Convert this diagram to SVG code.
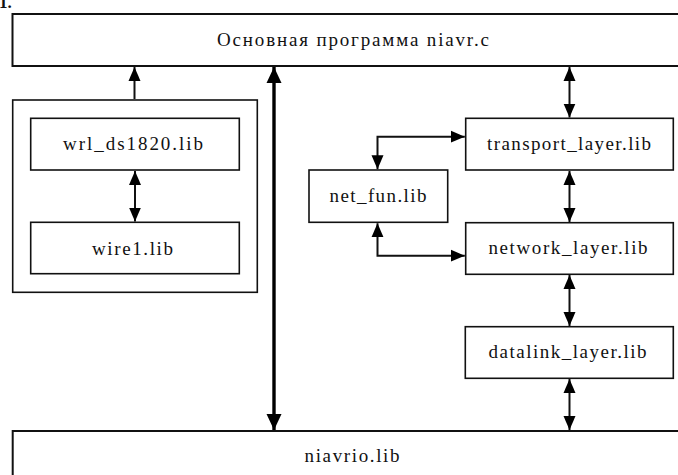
<svg xmlns="http://www.w3.org/2000/svg" width="678" height="475" viewBox="0 0 678 475">
<style>
  .box { fill: #fff; stroke: #111; stroke-width: 1.6; }
  .big { fill: #fff; stroke: #111; stroke-width: 2; }
  .lbl { font-family: "Liberation Serif", "Times New Roman", "DejaVu Serif", serif; font-size: 19px; fill: #111; text-anchor: middle; }
  .ln { fill: none; stroke: #111; stroke-width: 2; }
  .thick { fill: none; stroke: #000; stroke-width: 3.4; }
</style>
<defs>
  <marker id="ah" markerUnits="userSpaceOnUse" markerWidth="15" markerHeight="13" refX="14" refY="6.5" orient="auto-start-reverse" viewBox="0 0 15 13">
    <path d="M0,0.5 L14,6.5 L0,12.5 z" fill="#000"/>
  </marker>
  <marker id="ahb" markerUnits="userSpaceOnUse" markerWidth="17" markerHeight="16" refX="16" refY="8" orient="auto-start-reverse" viewBox="0 0 17 16">
    <path d="M0,0.5 L16,8 L0,15.5 z" fill="#000"/>
  </marker>
</defs>
<rect width="678" height="475" fill="#fff"/>
<text x="-1" y="8" style="font-family:'Liberation Serif','Times New Roman','DejaVu Serif',serif;font-size:17px;font-weight:bold;fill:#111">1.</text>

<g id="main">
  <rect class="big" x="12.5" y="14" width="700" height="52"/>
  <text class="lbl" x="353" y="46" textLength="272" lengthAdjust="spacing">Основная программа niavr.c</text>
</g>
<g id="group1wire">
  <rect class="box" x="12.7" y="100" width="244.6" height="192.3"/>
</g>
<g id="wrl_ds1820">
  <rect class="box" x="30.7" y="118.3" width="208.6" height="51.7"/>
  <text class="lbl" x="133" y="150" textLength="140" lengthAdjust="spacing">wrl_ds1820.lib</text>
</g>
<g id="wire1">
  <rect class="box" x="30.7" y="222.3" width="208.6" height="51.4"/>
  <text class="lbl" x="132.5" y="255" textLength="81" lengthAdjust="spacing">wire1.lib</text>
</g>
<g id="transport">
  <rect class="box" x="465.7" y="118.3" width="207.6" height="51.7"/>
  <text class="lbl" x="569" y="150" textLength="164" lengthAdjust="spacing">transport_layer.lib</text>
</g>
<g id="net_fun">
  <rect class="box" x="309" y="170" width="138.7" height="52.3"/>
  <text class="lbl" x="378" y="202" textLength="97" lengthAdjust="spacing">net_fun.lib</text>
</g>
<g id="network">
  <rect class="box" x="465.7" y="222.7" width="207.6" height="51.6"/>
  <text class="lbl" x="568" y="254" textLength="159" lengthAdjust="spacing">network_layer.lib</text>
</g>
<g id="datalink">
  <rect class="box" x="465.3" y="326.7" width="208" height="51.6"/>
  <text class="lbl" x="567.5" y="357.5" textLength="158" lengthAdjust="spacing">datalink_layer.lib</text>
</g>
<g id="niavrio">
  <rect class="big" x="12.7" y="431" width="700" height="100"/>
  <text class="lbl" x="352" y="462" textLength="95" lengthAdjust="spacing">niavrio.lib</text>
</g>

<g id="connectors">
  <line class="ln" x1="134.5" y1="99" x2="134.5" y2="67" marker-end="url(#ah)"/>
  <line class="thick" x1="274" y1="67" x2="274" y2="430" marker-start="url(#ahb)" marker-end="url(#ahb)"/>
  <line class="ln" x1="569.5" y1="67" x2="569.5" y2="117.5" marker-start="url(#ah)" marker-end="url(#ah)"/>
  <line class="ln" x1="135" y1="171" x2="135" y2="221.5" marker-start="url(#ah)" marker-end="url(#ah)"/>
  <line class="ln" x1="569.5" y1="171" x2="569.5" y2="222" marker-start="url(#ah)" marker-end="url(#ah)"/>
  <line class="ln" x1="569.5" y1="275" x2="569.5" y2="326" marker-start="url(#ah)" marker-end="url(#ah)"/>
  <line class="ln" x1="569.5" y1="379" x2="569.5" y2="430" marker-start="url(#ah)" marker-end="url(#ah)"/>
  <polyline class="ln" points="464.8,136.7 377.5,136.7 377.5,169.2" marker-start="url(#ah)" marker-end="url(#ah)"/>
  <polyline class="ln" points="377.5,223.2 377.5,255.7 464.8,255.7" marker-start="url(#ah)" marker-end="url(#ah)"/>
</g>
</svg>
